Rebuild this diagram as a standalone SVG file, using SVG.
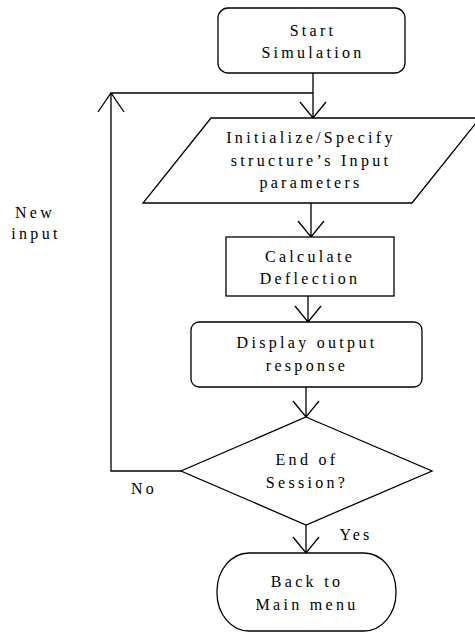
<svg xmlns="http://www.w3.org/2000/svg" width="475" height="632" viewBox="0 0 475 632" font-family="Liberation Serif, Times New Roman, serif">
<style>
.s{fill:#fff;stroke:#000;stroke-width:1.3}
.c{fill:none;stroke:#000;stroke-width:1.3}
text{font-size:16px;letter-spacing:3.3px;text-anchor:middle;fill:#000}
</style>
<rect width="475" height="632" fill="#fff"/>
<g id="connectors">
<path class="c" d="M313 73V118M300 102L313 118L326 102"/>
<path class="c" d="M311 203V237M298 221L311 237L324 221"/>
<path class="c" d="M308 296V322M295 306L308 322L321 306"/>
<path class="c" d="M306 387V417M293 401L306 417L319 401"/>
<path class="c" d="M306 525V553M293 537L306 553L319 537"/>
<path class="c" d="M181 471H111V93H313M98 112L111 93L124 112"/>
<text x="35" y="218">New</text>
<text x="36" y="239">input</text>
<text x="144" y="494">No</text>
<text x="356" y="540">Yes</text>
</g>
<g id="start">
<rect class="s" x="218" y="8" width="187" height="65" rx="10"/>
<text x="313" y="36">Start</text>
<text x="313" y="58">Simulation</text>
</g>
<g id="input">
<polygon class="s" points="211,118 480,118 412,203 143,203"/>
<text x="311" y="143">Initialize/Specify</text>
<text x="311" y="166">structure’s Input</text>
<text x="311" y="188">parameters</text>
</g>
<g id="calc">
<rect class="s" x="226" y="237" width="168" height="59"/>
<text x="310" y="262">Calculate</text>
<text x="310" y="284">Deflection</text>
</g>
<g id="display">
<rect class="s" x="191" y="322" width="231" height="65" rx="8"/>
<text x="307" y="348">Display output</text>
<text x="307" y="371">response</text>
</g>
<g id="decision">
<polygon class="s" points="306,417 432,471 306,525 181,471"/>
<text x="307" y="465">End of</text>
<text x="307" y="488">Session?</text>
</g>
<g id="end">
<rect class="s" x="217" y="553" width="179" height="78" rx="32" ry="38"/>
<text x="307" y="587">Back to</text>
<text x="307" y="610">Main menu</text>
</g>
</svg>
